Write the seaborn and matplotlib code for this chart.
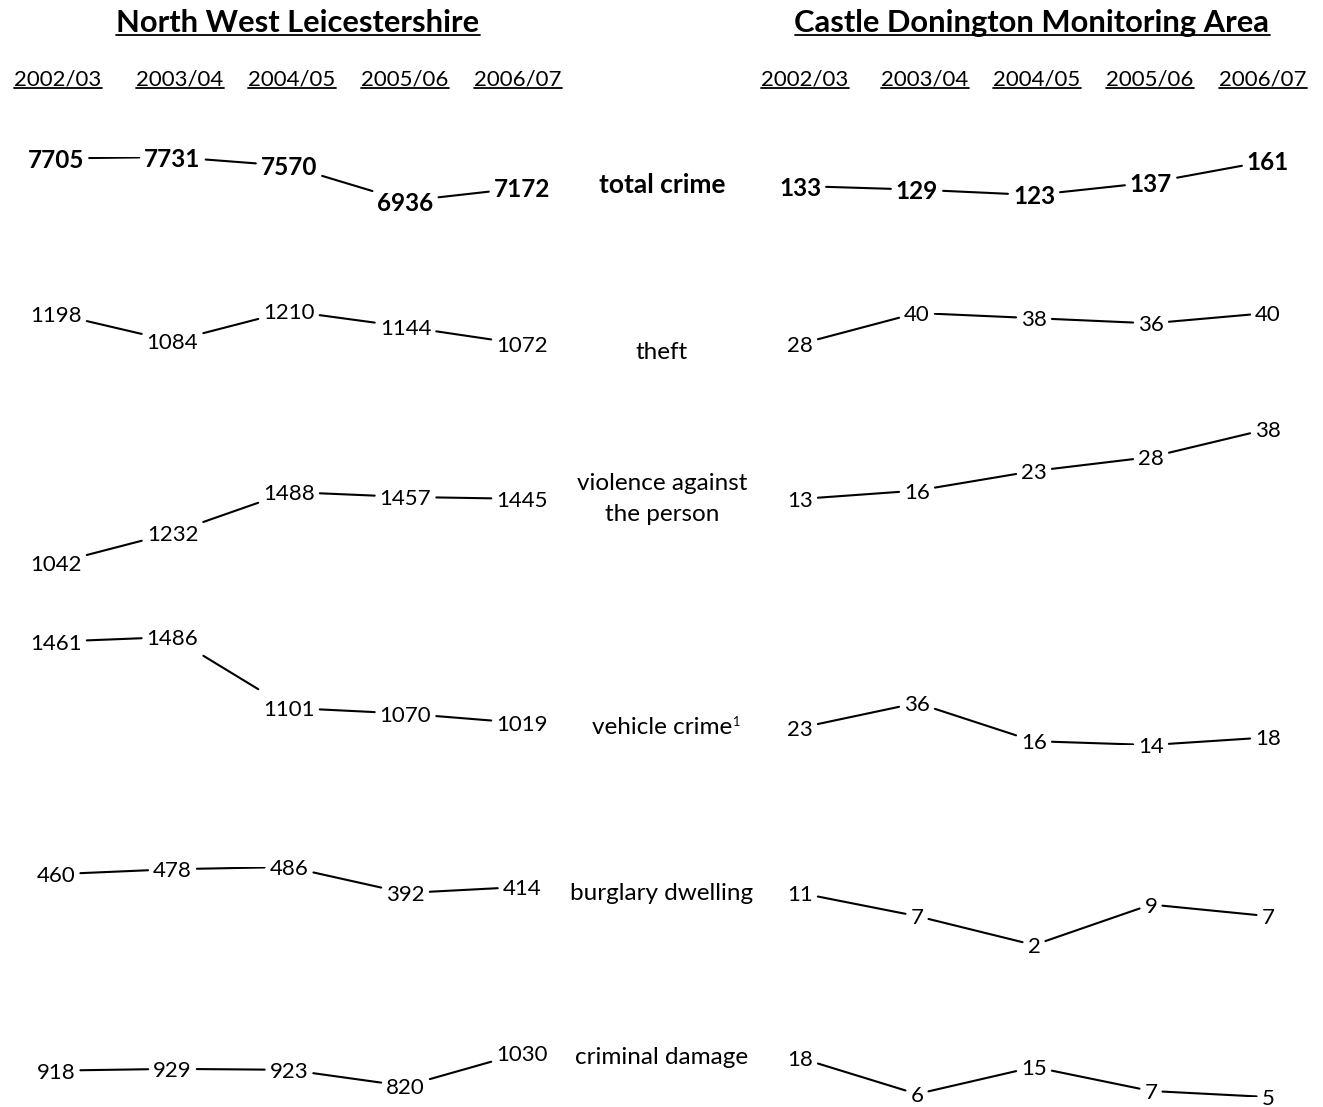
import matplotlib
matplotlib.use('Agg')
import matplotlib.pyplot as plt
from matplotlib.lines import Line2D
import pandas as pd
import seaborn as sns

sns.set_theme(style='white')
plt.rcParams['font.family'] = ['Lato', 'DejaVu Sans']
plt.rcParams['text.color'] = 'black'

years = ['2002/03', '2003/04', '2004/05', '2005/06', '2006/07']
areas = ['North West Leicestershire', 'Castle Donington Monitoring Area']
crimes = ['total crime', 'theft', 'violence against\nthe person',
          'vehicle crime', 'burglary dwelling', 'criminal damage']
footnote_row = 3

nwl_total = [7705, 7731, 7570, 6936, 7172]
nwl_theft = [1198, 1084, 1210, 1144, 1072]
nwl_violence = [1042, 1232, 1488, 1457, 1445]
nwl_vehicle = [1461, 1486, 1101, 1070, 1019]
nwl_burglary = [460, 478, 486, 392, 414]
nwl_damage = [918, 929, 923, 820, 1030]

cd_total = [133, 129, 123, 137, 161]
cd_theft = [28, 40, 38, 36, 40]
cd_violence = [13, 16, 23, 28, 38]
cd_vehicle = [23, 36, 16, 14, 18]
cd_burglary = [11, 7, 2, 9, 7]
cd_damage = [18, 6, 15, 7, 5]

nwl_rows = [nwl_total, nwl_theft, nwl_violence, nwl_vehicle, nwl_burglary, nwl_damage]
cd_rows = [cd_total, cd_theft, cd_violence, cd_vehicle, cd_burglary, cd_damage]

# layout in pixels, measured from top-left of the figure
W, H = 1323, 1107
FS = 16
col_span = [(56, 522), (800, 1268)]
title_x = [298, 1032]
year_x = [[58, 180, 292, 405, 518], [805, 925, 1037, 1150, 1263]]
# (pixel of row max, pixel of row min)
bands = [
    [(157, 201), (311, 344), (492, 563), (637, 723), (867, 893), (1053, 1086)],
    [(161, 195), (313, 344), (429, 499), (703, 745), (893, 945), (1058, 1097)],
]
label_x = 662
label_y = [185, 353, 499, 727, 893, 1058]
PAD = 5

fig = plt.figure(figsize=(W / 100, H / 100), dpi=100)

headers = []
for p, area in enumerate(areas):
    t = fig.text(title_x[p] / W, 1 - 32 / H, area, ha='center', va='baseline',
                 fontsize=22.2, fontweight='bold')
    headers.append((t, 32))
    for yr, x in zip(years, year_x[p]):
        t = fig.text(x / W, 1 - 85 / H, yr, ha='center', va='baseline', fontsize=FS)
        headers.append((t, 85))

row_labels = []
for r, name in enumerate(crimes):
    t = fig.text(label_x / W, 1 - label_y[r] / H, name, ha='center', va='center',
                 fontsize=19 if r == 0 else 17.5, fontweight='bold' if r == 0 else 'normal',
                 linespacing=1.6)
    row_labels.append(t)

row_axes = []
for p, rows in enumerate([nwl_rows, cd_rows]):
    x0, x1 = col_span[p]
    for r, vals in enumerate(rows):
        top, bot = bands[p][r]
        ax = fig.add_axes([x0 / W, 1 - bot / H, (x1 - x0) / W, (bot - top) / H])
        texts = [ax.text(i, v, str(v), ha='center', va='center_baseline',
                         fontsize=17.5 if r == 0 else FS,
                         fontweight='bold' if r == 0 else 'normal')
                 for i, v in enumerate(vals)]
        row_axes.append((ax, vals, texts))

fig.canvas.draw()
renderer = fig.canvas.get_renderer()

# underlines for the headings
for t, base in headers:
    bb = t.get_window_extent(renderer)
    y = 1 - (base + 2.5) / H
    fig.add_artist(Line2D([bb.x0 / W, bb.x1 / W], [y, y], transform=fig.transFigure,
                          color='black', lw=1.3))

# footnote marker on vehicle crime
bb = row_labels[footnote_row].get_window_extent(renderer)
fig.text((bb.x1 + 1) / W, (bb.y1 + 1) / H, '1', ha='left', va='top', fontsize=9)

# connecting segments, stopped short of each number
for ax, vals, texts in row_axes:
    ax.set_xlim(0, 4)
    ax.set_ylim(min(vals), max(vals))
    boxes = [t.get_window_extent(renderer) for t in texts]
    pts = ax.transData.transform([(i, v) for i, v in enumerate(vals)])
    recs = []
    for i in range(len(vals) - 1):
        span = pts[i + 1][0] - pts[i][0]
        f0 = (boxes[i].x1 + PAD - pts[i][0]) / span
        f1 = (boxes[i + 1].x0 - PAD - pts[i][0]) / span
        for f in (f0, f1):
            recs.append({'seg': i, 'x': i + f, 'y': vals[i] + f * (vals[i + 1] - vals[i])})
    df = pd.DataFrame(recs)
    sns.lineplot(data=df, x='x', y='y', units='seg', estimator=None, sort=False,
                 color='black', linewidth=1.5, ax=ax, legend=False)
    ax.set_xlim(0, 4)
    ax.set_ylim(min(vals), max(vals))
    ax.set_axis_off()

fig.savefig('out.png', dpi=100)
